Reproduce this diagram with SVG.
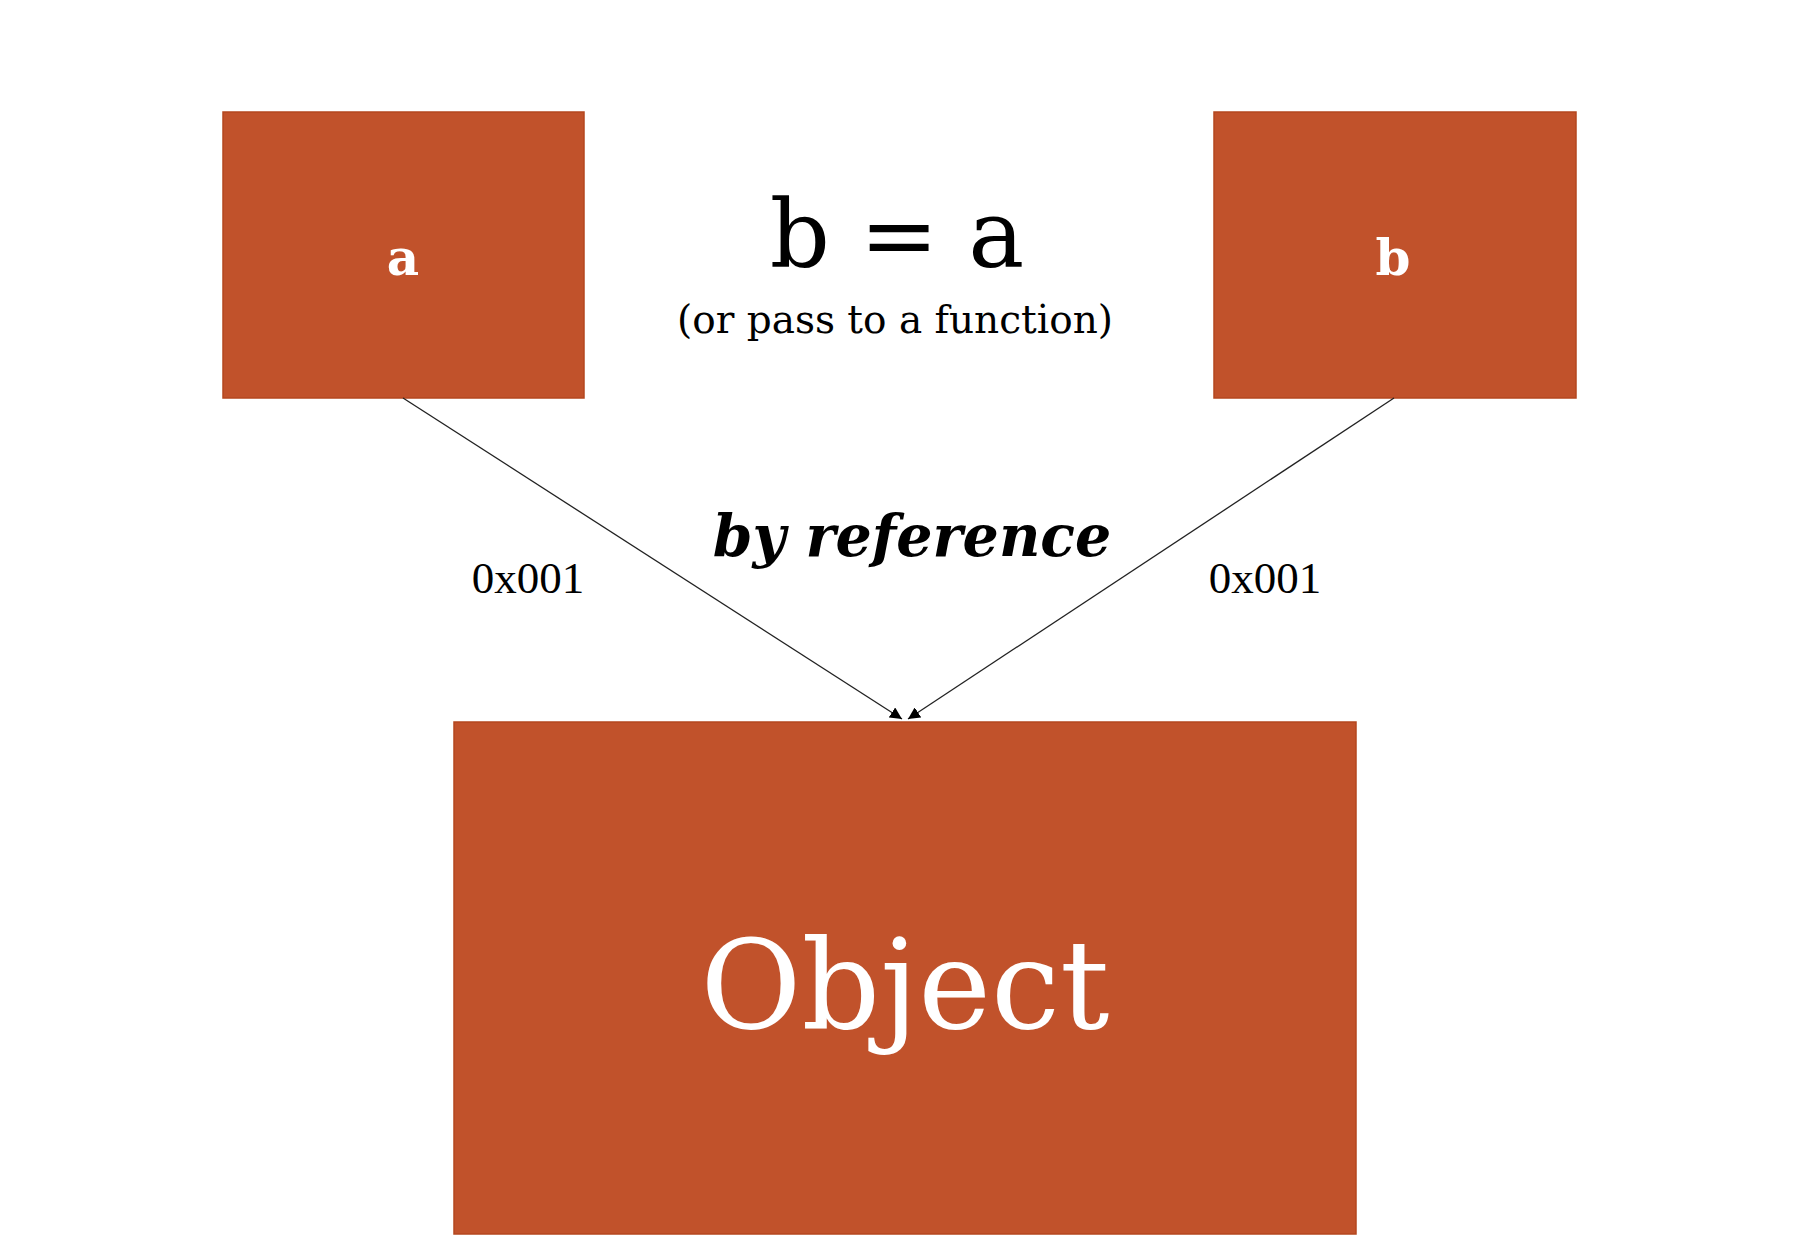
<svg xmlns="http://www.w3.org/2000/svg" width="1802" height="1260" viewBox="0 0 1802 1260">
<style>
.box{fill:#C1522B;stroke:#B4471F;stroke-width:1.5}
.lbl{fill:#fff;font-family:"DejaVu Serif",serif;text-anchor:middle}
.blk{fill:#000;text-anchor:middle}
.con{stroke:#222;stroke-width:1.3;fill:none;marker-end:url(#ah)}
</style>
<defs>
<marker id="ah" viewBox="0 0 10 10" refX="10" refY="5" markerWidth="12" markerHeight="12" markerUnits="userSpaceOnUse" orient="auto">
<path d="M0,0 L10,5 L0,10 z" fill="#000"/>
</marker>
</defs>
<rect width="1802" height="1260" fill="#fff"/>
<g id="node-a">
<rect class="box" x="223" y="112" width="361" height="286"/>
<text class="lbl" x="403" y="275" font-size="50" font-weight="bold">a</text>
</g>
<g id="node-b">
<rect class="box" x="1214" y="112" width="362" height="286"/>
<text class="lbl" x="1393" y="275" font-size="50" font-weight="bold">b</text>
</g>
<g id="node-object">
<rect class="box" x="454" y="722" width="902" height="512"/>
<text class="lbl" x="905" y="1028" font-size="123">Object</text>
</g>
<g id="connectors">
<line class="con" x1="403" y1="398" x2="902" y2="719"/>
<line class="con" x1="1394" y1="398" x2="908" y2="719"/>
</g>
<g id="labels">
<text class="blk" x="897" y="267" font-family="DejaVu Serif, serif" font-size="94">b = a</text>
<text class="blk" x="895" y="333" font-family="DejaVu Serif, serif" font-size="39">(or pass to a function)</text>
<text class="blk" x="912" y="556" font-family="DejaVu Serif, serif" font-size="57" font-weight="bold" font-style="italic">by reference</text>
<text class="blk" x="528" y="593" font-family="Liberation Serif, serif" font-size="45">0x001</text>
<text class="blk" x="1265" y="593" font-family="Liberation Serif, serif" font-size="45">0x001</text>
</g>
</svg>
